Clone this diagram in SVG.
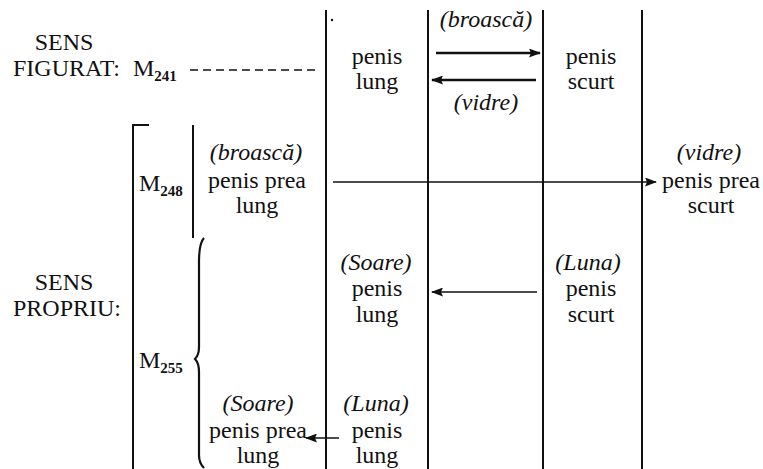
<svg xmlns="http://www.w3.org/2000/svg" width="763" height="469" viewBox="0 0 763 469" font-family="'Liberation Serif', 'Times New Roman', 'DejaVu Serif', serif">
<defs>
<style>
text{font-family:'Liberation Serif','Times New Roman','DejaVu Serif',serif;font-size:24px;fill:#111;}
.i{font-style:italic;}
.c{text-anchor:middle;}
.sub{font-size:15px;font-weight:bold;}
.ln{stroke:#111;stroke-width:2;fill:none;}
.ar{stroke:#111;stroke-width:1.6;fill:none;}
.arb{stroke:#111;stroke-width:2.6;fill:none;}
</style>
<marker id="ah" viewBox="0 0 10 8" refX="9" refY="4" markerWidth="10" markerHeight="8" markerUnits="userSpaceOnUse" orient="auto">
<path d="M0,0 L10,4 L0,8 L2,4 Z" fill="#111"/>
</marker>
<marker id="ahb" viewBox="0 0 12 9" refX="11" refY="4.5" markerWidth="12" markerHeight="9" markerUnits="userSpaceOnUse" orient="auto">
<path d="M0,0 L12,4.5 L0,9 L2,4.5 Z" fill="#111"/>
</marker>
</defs>
<rect width="763" height="469" fill="#fff"/>

<g id="frame">
<line class="ln" x1="326" y1="10" x2="326" y2="469"/>
<line class="ln" x1="428" y1="10" x2="428" y2="469"/>
<line class="ln" x1="543" y1="10" x2="543" y2="469"/>
<line class="ln" x1="642" y1="10" x2="642" y2="469"/>
<circle cx="332" cy="20" r="1.2" fill="#111"/>
<path class="ln" d="M149,125 L133,125 L133,469"/>
<line class="ln" x1="193" y1="125" x2="193" y2="238"/>
<path d="M204,238 C200,242 199,250 199,262 L199,347 C199,353 197,357 195,359 C197,361 199,365 199,372 L199,455 C199,461 201,465 204,468" stroke="#111" stroke-width="2.2" fill="none"/>
</g>

<g id="label-figurat">
<text class="c" x="64" y="50">SENS</text>
<text x="13" y="76">FIGURAT:</text>
<text x="133" y="76">M<tspan class="sub" dy="5">241</tspan></text>
</g>

<g id="label-propriu">
<text class="c" x="64" y="290">SENS</text>
<text x="13" y="316">PROPRIU:</text>
</g>

<g id="m248">
<text x="139" y="191">M<tspan class="sub" dy="5">248</tspan></text>
</g>
<g id="m255">
<text x="139" y="368">M<tspan class="sub" dy="5">255</tspan></text>
</g>

<g id="n-top-lung">
<text class="c" x="377" y="64">penis</text>
<text class="c" x="377" y="89">lung</text>
</g>
<g id="n-top-scurt">
<text class="c" x="591" y="64">penis</text>
<text class="c" x="591" y="89">scurt</text>
</g>
<g id="n-broasca-lung">
<text class="c i" x="256" y="160">(broască)</text>
<text class="c" x="257" y="188">penis prea</text>
<text class="c" x="257" y="213">lung</text>
</g>
<g id="n-vidre-scurt">
<text class="c i" x="709" y="160">(vidre)</text>
<text class="c" x="711" y="188">penis prea</text>
<text class="c" x="711" y="213">scurt</text>
</g>
<g id="n-soare-lung">
<text class="c i" x="376" y="270">(Soare)</text>
<text class="c" x="377" y="296">penis</text>
<text class="c" x="377" y="322">lung</text>
</g>
<g id="n-luna-scurt">
<text class="c i" x="588" y="270">(Luna)</text>
<text class="c" x="591" y="296">penis</text>
<text class="c" x="591" y="322">scurt</text>
</g>
<g id="n-soare-prea-lung">
<text class="c i" x="258" y="411">(Soare)</text>
<text class="c" x="258" y="438">penis prea</text>
<text class="c" x="258" y="463">lung</text>
</g>
<g id="n-luna-lung">
<text class="c i" x="376" y="411">(Luna)</text>
<text class="c" x="377" y="438">penis</text>
<text class="c" x="377" y="463">lung</text>
</g>

<g id="connectors">
<line x1="190" y1="70" x2="318" y2="70" stroke="#111" stroke-width="1.6" stroke-dasharray="8 5"/>
<line class="arb" x1="436" y1="53" x2="540" y2="53" marker-end="url(#ahb)"/>
<text class="c i" x="486" y="27">(broască)</text>
<line class="arb" x1="536" y1="80" x2="432" y2="80" marker-end="url(#ahb)"/>
<text class="c i" x="486" y="110">(vidre)</text>
<line class="ar" x1="333" y1="182" x2="656" y2="182" marker-end="url(#ahb)"/>
<line class="ar" x1="537" y1="292" x2="432" y2="292" marker-end="url(#ahb)"/>
<line class="ar" x1="339" y1="438" x2="306" y2="438" marker-end="url(#ahb)"/>
</g>
</svg>
